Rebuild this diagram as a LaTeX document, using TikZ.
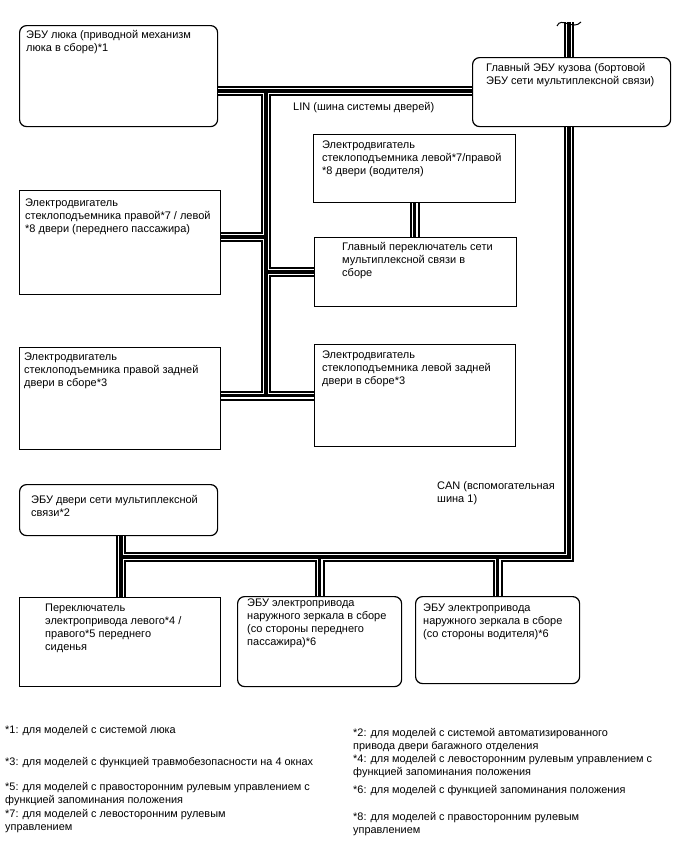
\documentclass[tikz,border=0pt]{standalone}
\usepackage{fontspec}
\setmainfont{Liberation Sans}
\usetikzlibrary{calc}

\begin{document}
\begin{tikzpicture}[x=1pt, y=-1pt,
    box/.style={draw, line width=1.2pt, anchor=north west, inner sep=0pt},
    ecu/.style={box, rounded corners=7pt},
    txt/.style={anchor=north west, inner sep=0pt, align=left,
                font=\fontsize{11}{13}\selectfont},
    note/.style={txt, font=\fontsize{10.9}{13}\selectfont}
  ]
  \useasboundingbox (0,0) rectangle (688,852);

  % Units
  \node[ecu, minimum width=198pt, minimum height=101pt] (sunroof) at (19,25) {};
  \node[ecu, minimum width=198pt, minimum height=69pt]  (bodyecu) at (472,57) {};
  \node[box, minimum width=202pt, minimum height=68pt]  (drvwin)  at (313,134) {};
  \node[box, minimum width=201pt, minimum height=104pt] (fpass)   at (19,190) {};
  \node[box, minimum width=202pt, minimum height=69pt]  (mainsw)  at (314,237) {};
  \node[box, minimum width=201pt, minimum height=102pt] (lrear)   at (19,347) {};
  \node[box, minimum width=201pt, minimum height=102pt] (rrear)   at (314,344) {};
  \node[ecu, minimum width=198pt, minimum height=51pt]  (doorecu) at (19,484) {};
  \node[box, minimum width=201pt, minimum height=89pt]  (seatsw)  at (19,597) {};
  \node[ecu, minimum width=164pt, minimum height=90pt]  (pmirror) at (237,596) {};
  \node[ecu, minimum width=164pt, minimum height=87pt]  (dmirror) at (415,596) {};

  % Bus points
  \coordinate (lintop)  at (266,91);
  \coordinate (linfp)   at (266,237);
  \coordinate (canbrk)  at (569,22);
  \coordinate (cancnr)  at (569,557);
  \coordinate (candoor) at (121,557);

  % Buses (outer, gap, core)
  \foreach \w/\c in {10/black, 6/white, 3.5/black}
    \draw[line width=\w pt, \c, line join=miter]
      (sunroof.east |- lintop) -- (bodyecu.west |- lintop)
      (lintop) -- (lintop |- rrear.west)
      (fpass.east |- linfp) -- (linfp)
      (lintop |- mainsw.west) -- (mainsw.west)
      (lrear.east |- rrear.west) -- (rrear.west)
      (drvwin.south) -- (drvwin.south |- mainsw.north)
      (canbrk) -- (canbrk |- bodyecu.north)
      (canbrk |- bodyecu.south) -- (cancnr) -- (candoor)
      (candoor |- doorecu.south) -- (candoor |- seatsw.north)
      (pmirror.north) -- (pmirror.north |- candoor)
      (dmirror.north) -- (dmirror.north |- candoor);

  % Break mark
  \draw[line width=1pt] ([shift={(-12,4)}]canbrk)
    .. controls ([shift={(-8,-6)}]canbrk) and ([shift={(4,9)}]canbrk)
    .. ([shift={(12,0)}]canbrk);

  % Texts
  \node[txt] (sunrooft) at (26,30.5) {ЭБУ люка (приводной механизм\\люка в сборе)*1};
  \node[txt] (bodyecut) at (486,63.5) {Главный ЭБУ кузова (бортовой\\ЭБУ сети мультиплексной связи)};
  \node[txt] (lin)      at (293,102.5) {LIN (шина системы дверей)};
  \node[txt] (drvwint)  at (322,140.5) {Электродвигатель\\стеклоподъемника левой*7/правой\\*8 двери (водителя)};
  \node[txt] (fpasst)   at (25,198.5) {Электродвигатель\\стеклоподъемника правой*7 / левой\\*8 двери (переднего пассажира)};
  \node[txt] (mainswt)  at (342,242.5) {Главный переключатель сети\\мультиплексной связи в\\сборе};
  \node[txt] (lreart)   at (24,352.5) {Электродвигатель\\стеклоподъемника правой задней\\двери в сборе*3};
  \node[txt] (rreart)   at (322,350.5) {Электродвигатель\\стеклоподъемника левой задней\\двери в сборе*3};
  \node[txt] (can)      at (437,481.5) {CAN (вспомогательная\\шина 1)};
  \node[txt] (doorecut) at (31,495.5) {ЭБУ двери сети мультиплексной\\связи*2};
  \node[txt] (seatswt)  at (45,603.5) {Переключатель\\электропривода левого*4 /\\правого*5 переднего\\сиденья};
  \node[txt] (pmirrort) at (247,598.5) {ЭБУ электропривода\\наружного зеркала в сборе\\(со стороны переднего\\пассажира)*6};
  \node[txt] (dmirrort) at (423,603.5) {ЭБУ электропривода\\наружного зеркала в сборе\\(со стороны водителя)*6};

  % Notes
  \node[note] (n1) at (5,725) {*1: для моделей с системой люка};
  \node[note] (n3) at (5,757) {*3: для моделей с функцией травмобезопасности на 4 окнах};
  \node[note] (n5) at (5,782) {*5: для моделей с правосторонним рулевым управлением с\\функцией запоминания положения};
  \node[note] (n7) at (5,809) {*7: для моделей с левосторонним рулевым\\управлением};
  \node[note] (n2) at (353,728) {*2: для моделей с системой автоматизированного\\привода двери багажного отделения};
  \node[note] (n4) at (353,754) {*4: для моделей с левосторонним рулевым управлением с\\функцией запоминания положения};
  \node[note] (n6) at (353,785) {*6: для моделей с функцией запоминания положения};
  \node[note] (n8) at (353,812) {*8: для моделей с правосторонним рулевым\\управлением};
\end{tikzpicture}
\end{document}
